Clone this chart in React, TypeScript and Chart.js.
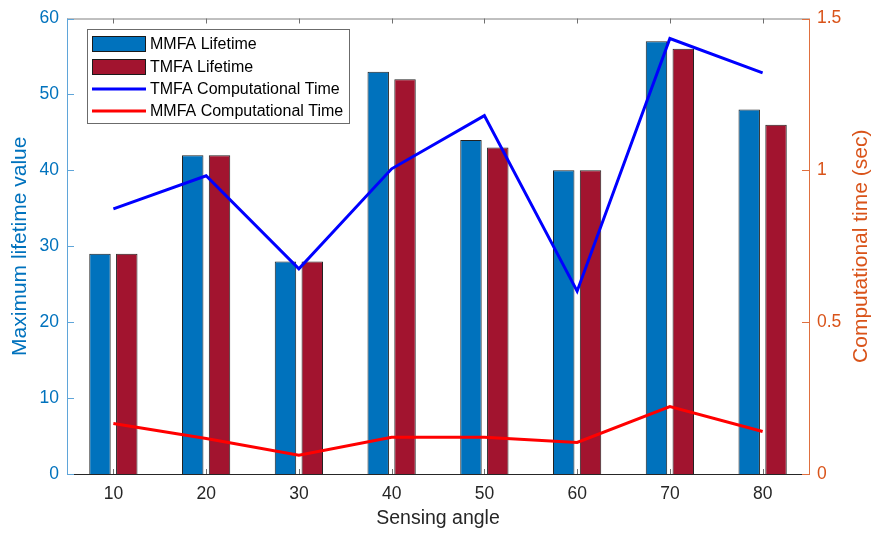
import { useEffect, useRef } from 'react';
import { Chart, registerables } from 'chart.js';

Chart.register(...registerables);

const angles = ['10', '20', '30', '40', '50', '60', '70', '80'];
const mmfaLifetime = [29, 42, 28, 53, 44, 40, 57, 48];
const tmfaLifetime = [29, 42, 28, 52, 43, 40, 56, 46];
const tmfaTime = [0.873, 0.982, 0.676, 1.005, 1.18, 0.602, 1.434, 1.321];
const mmfaTime = [0.166, 0.117, 0.062, 0.121, 0.121, 0.104, 0.222, 0.14];
const leftTicks = [0, 10, 20, 30, 40, 50, 60];
const rightTicks = [0, 0.5, 1, 1.5];

const FONT = '"Liberation Sans", Arial, Helvetica, sans-serif';
const BLUE_BAR = '#0072BD';
const RED_BAR = '#A2142F';
const AX_BLUE = '#0072BD';
const AX_ORANGE = '#D95319';

export default function App() {
  const ref = useRef<HTMLCanvasElement>(null);

  useEffect(() => {
    if (!ref.current) return;

    const framePlugin = {
      id: 'frame',
      afterDatasetsDraw(chart: any) {
        const { ctx, chartArea: a, scales } = chart;
        ctx.save();
        ctx.lineWidth = 1;
        ctx.strokeStyle = '#808080';
        ctx.beginPath();
        ctx.moveTo(a.left, a.top + 0.5);
        ctx.lineTo(a.right, a.top + 0.5);
        ctx.stroke();
        ctx.strokeStyle = '#262626';
        ctx.beginPath();
        ctx.moveTo(a.left, a.bottom + 0.5);
        ctx.lineTo(a.right, a.bottom + 0.5);
        ctx.stroke();
        ctx.strokeStyle = '#707070';
        angles.forEach((_, i) => {
          const x = Math.round(scales.x.getPixelForTick(i)) + 0.5;
          ctx.beginPath();
          ctx.moveTo(x, a.bottom);
          ctx.lineTo(x, a.bottom - 5);
          ctx.moveTo(x, a.top);
          ctx.lineTo(x, a.top + 5);
          ctx.stroke();
        });
        ctx.strokeStyle = '#5fa5d9';
        ctx.beginPath();
        ctx.moveTo(a.left + 0.5, a.top);
        ctx.lineTo(a.left + 0.5, a.bottom + 1);
        ctx.stroke();
        leftTicks.forEach((v) => {
          const y = Math.round(scales.y.getPixelForValue(v)) + 0.5;
          ctx.beginPath();
          ctx.moveTo(a.left, y);
          ctx.lineTo(a.left + 7, y);
          ctx.stroke();
        });
        ctx.strokeStyle = '#e0703f';
        ctx.beginPath();
        ctx.moveTo(a.right + 0.5, a.top);
        ctx.lineTo(a.right + 0.5, a.bottom + 1);
        ctx.stroke();
        rightTicks.forEach((v) => {
          const y = Math.round(scales.y1.getPixelForValue(v)) + 0.5;
          ctx.beginPath();
          ctx.moveTo(a.right, y);
          ctx.lineTo(a.right - 7, y);
          ctx.stroke();
        });
        ctx.restore();
      },
      afterDraw(chart: any) {
        const { ctx, chartArea: a } = chart;
        ctx.save();
        ctx.textAlign = 'center';
        ctx.textBaseline = 'middle';
        ctx.font = `19.5px ${FONT}`;
        ctx.fillStyle = '#262626';
        ctx.fillText('Sensing angle', (a.left + a.right) / 2, 519);
        const cy = (a.top + a.bottom) / 2;
        ctx.font = `21px ${FONT}`;
        ctx.save();
        ctx.translate(20, cy);
        ctx.rotate(-Math.PI / 2);
        ctx.fillStyle = AX_BLUE;
        ctx.fillText('Maximum lifetime value', 0, 0);
        ctx.restore();
        ctx.save();
        ctx.translate(861, cy);
        ctx.rotate(-Math.PI / 2);
        ctx.fillStyle = AX_ORANGE;
        ctx.fillText('Computational time (sec)', 0, 0);
        ctx.restore();

        const bx = 87, by = 29, bw = 262, bh = 94;
        ctx.fillStyle = '#ffffff';
        ctx.fillRect(bx, by, bw, bh);
        ctx.strokeStyle = '#6b6b6b';
        ctx.lineWidth = 1;
        ctx.strokeRect(bx + 0.5, by + 0.5, bw, bh);
        const items = [
          { label: 'MMFA Lifetime', type: 'bar', color: BLUE_BAR },
          { label: 'TMFA Lifetime', type: 'bar', color: RED_BAR },
          { label: 'TMFA Computational Time', type: 'line', color: '#0000FF' },
          { label: 'MMFA Computational Time', type: 'line', color: '#FF0000' },
        ];
        const rows = [44, 67, 89, 111];
        ctx.textAlign = 'left';
        ctx.font = `16px ${FONT}`;
        items.forEach((it, i) => {
          const y = rows[i];
          if (it.type === 'bar') {
            ctx.fillStyle = it.color;
            ctx.fillRect(92, y - 8, 54, 16);
            ctx.strokeStyle = '#1a1a1a';
            ctx.strokeRect(92.5, y - 7.5, 53, 15);
          } else {
            ctx.strokeStyle = it.color;
            ctx.lineWidth = 3;
            ctx.beginPath();
            ctx.moveTo(92, y);
            ctx.lineTo(146, y);
            ctx.stroke();
            ctx.lineWidth = 1;
          }
          ctx.fillStyle = '#000000';
          ctx.fillText(it.label, 150, y + 1);
        });
        ctx.restore();
      },
    };

    const chart = new Chart(ref.current, {
      type: 'bar',
      data: {
        labels: angles,
        datasets: [
          {
            type: 'line',
            label: 'TMFA Computational Time',
            data: tmfaTime,
            yAxisID: 'y1',
            borderColor: '#0000FF',
            backgroundColor: '#0000FF',
            borderWidth: 3,
            pointRadius: 0,
            tension: 0,
            order: 0,
          },
          {
            type: 'line',
            label: 'MMFA Computational Time',
            data: mmfaTime,
            yAxisID: 'y1',
            borderColor: '#FF0000',
            backgroundColor: '#FF0000',
            borderWidth: 3,
            pointRadius: 0,
            tension: 0,
            order: 0,
          },
          {
            type: 'bar',
            label: 'MMFA Lifetime',
            data: mmfaLifetime,
            yAxisID: 'y',
            backgroundColor: BLUE_BAR,
            borderColor: '#222222',
            borderWidth: 1,
            categoryPercentage: 0.578,
            barPercentage: 0.8,
            order: 1,
          },
          {
            type: 'bar',
            label: 'TMFA Lifetime',
            data: tmfaLifetime,
            yAxisID: 'y',
            backgroundColor: RED_BAR,
            borderColor: '#222222',
            borderWidth: 1,
            categoryPercentage: 0.578,
            barPercentage: 0.8,
            order: 1,
          },
        ],
      } as any,
      options: {
        animation: false,
        responsive: false,
        devicePixelRatio: 1,
        layout: { padding: { top: 14, left: 0, right: 0, bottom: 0 } },
        plugins: { legend: { display: false }, tooltip: { enabled: false } },
        scales: {
          x: {
            type: 'category',
            offset: true,
            grid: { display: false, drawTicks: false },
            border: { display: false },
            ticks: { font: { family: FONT, size: 17.5 }, color: '#262626', padding: 10, maxRotation: 0 },
            afterFit(s: any) { s.height = 59; },
          },
          y: {
            position: 'left',
            min: 0,
            max: 60,
            grid: { display: false, drawTicks: false },
            border: { display: false },
            ticks: { stepSize: 10, font: { family: FONT, size: 17.5 }, color: AX_BLUE, padding: 8 },
            afterFit(s: any) { s.width = 67; },
          },
          y1: {
            position: 'right',
            min: 0,
            max: 1.5,
            grid: { display: false, drawTicks: false },
            border: { display: false },
            ticks: {
              stepSize: 0.5,
              font: { family: FONT, size: 17.5 },
              color: AX_ORANGE,
              padding: 8,
              callback: (v: any) => String(v),
            },
            afterFit(s: any) { s.width = 65; },
          },
        },
      } as any,
      plugins: [framePlugin],
    });

    return () => chart.destroy();
  }, []);

  return (
    <div style={{ position: 'fixed', left: 0, top: 0, width: 874, height: 533, background: '#ffffff' }}>
      <canvas ref={ref} width={874} height={533} style={{ display: 'block', width: 874, height: 533 }} />
    </div>
  );
}
